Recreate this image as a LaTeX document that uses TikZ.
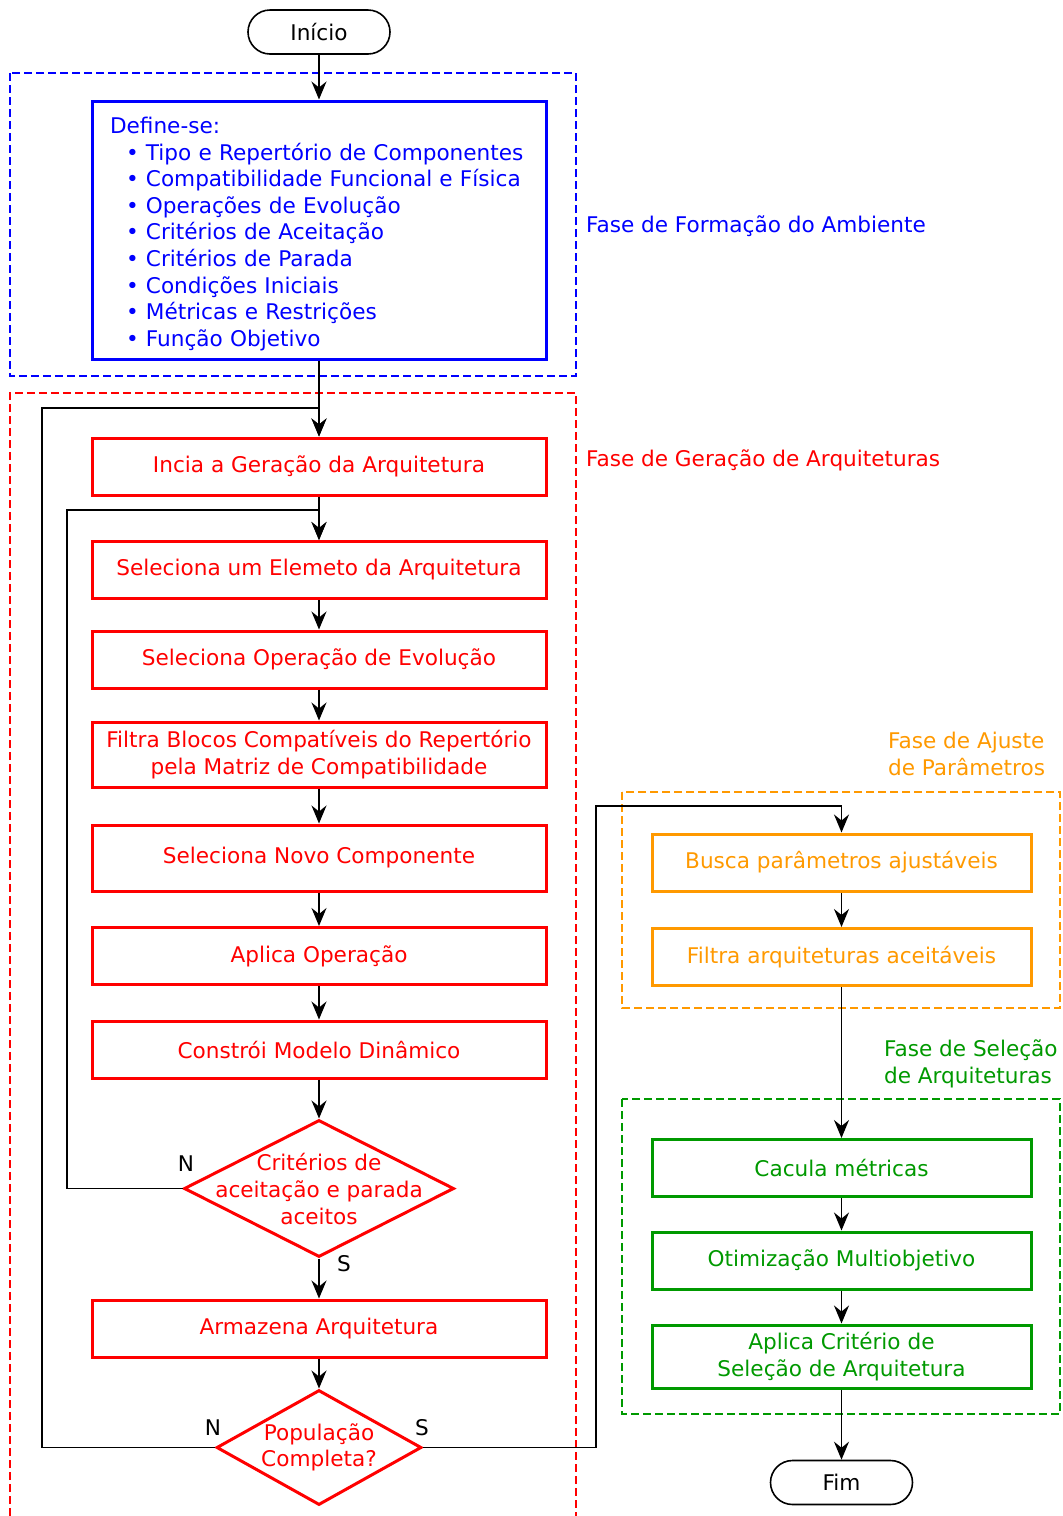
\documentclass[tikz,border=0pt]{standalone}
\usepackage{fontspec}
\setmainfont{DejaVu Sans}
\usetikzlibrary{shapes.geometric,arrows.meta}
\definecolor{myblue}{RGB}{0,0,255}
\definecolor{myred}{RGB}{255,0,0}
\definecolor{myorange}{RGB}{255,153,0}
\definecolor{mygreen}{RGB}{0,153,0}
\begin{document}
\begin{tikzpicture}[x=0.5pt,y=-0.5pt,
  font=\fontsize{10.8}{13.3}\selectfont,
  box/.style={draw, line width=1.5pt, rectangle, minimum width=227pt, minimum height=28.5pt, align=center, inner sep=2pt},
  redbox/.style={box, draw=myred, text=myred},
  rbox/.style={box, minimum width=189.5pt},
  orbox/.style={rbox, draw=myorange, text=myorange},
  grbox/.style={rbox, draw=mygreen, text=mygreen},
  reddia/.style={diamond, draw=myred, line width=1.5pt, inner sep=0pt},
  term/.style={draw, rounded corners=11pt, minimum width=71pt, minimum height=22pt, line width=0.8pt},
  arr/.style={-{Stealth[length=9pt,width=7.5pt,inset=3pt]}, line width=0.7pt, black},
  phase/.style={dash pattern=on 4pt off 2pt, line width=0.6pt},
]
\useasboundingbox (0,0) rectangle (1063,1516);

% phase frames
\draw[phase, myblue] (10,73) rectangle (576,376);
\draw[phase, myred] (10,1516) |- (576,393) -- (576,1516);
\draw[phase, myorange] (622,792) rectangle (1060,1008);
\draw[phase, mygreen] (622,1099) rectangle (1060,1414);

% phase labels
\node[text=myblue, anchor=west] (lf1) at (579,226) {Fase de Formação do Ambiente};
\node[text=myred, anchor=west] (lf2) at (579,460) {Fase de Geração de Arquiteturas};
\node[text=myorange, align=left, anchor=west] (lf3) at (881,754) {Fase de Ajuste\\de Parâmetros};
\node[text=mygreen, align=left, anchor=west] (lf4) at (877,1064) {Fase de Seleção\\de Arquiteturas};

% left column
\node[term] (start) at (319,32) {Início};
\node[box, draw=myblue, text=myblue, minimum height=129pt, text width=209pt, inner xsep=9pt, align=left] (env) at (319,230) {%
\mbox{\rule{0pt}{12.2pt}Define-se:}\\
\mbox{\hspace*{8pt}• Tipo e Repertório de Componentes}\\
\mbox{\hspace*{8pt}• Compatibilidade Funcional e Física}\\
\mbox{\hspace*{8pt}• Operações de Evolução}\\
\mbox{\hspace*{8pt}• Critérios de Aceitação}\\
\mbox{\hspace*{8pt}• Critérios de Parada}\\
\mbox{\hspace*{8pt}• Condições Iniciais}\\
\mbox{\hspace*{8pt}• Métricas e Restrições}\\
\mbox{\hspace*{8pt}• Função Objetivo}};
\node[redbox] (b1) at (319,466.5) {Incia a Geração da Arquitetura};
\node[redbox] (b2) at (319,570) {Seleciona um Elemeto da Arquitetura};
\node[redbox] (b3) at (319,659.5) {Seleciona Operação de Evolução};
\node[redbox, minimum height=32.5pt] (b4) at (319,754.5) {Filtra Blocos Compatíveis do Repertório\\pela Matriz de Compatibilidade};
\node[redbox, minimum height=33pt] (b5) at (319,858) {Seleciona Novo Componente};
\node[redbox] (b6) at (319,956) {Aplica Operação};
\node[redbox] (b7) at (319,1049.5) {Constrói Modelo Dinâmico};
\node[reddia, minimum width=135pt, minimum height=68.5pt] (d1) at (319,1188.5) {};
\node[text=myred, align=center, font=\fontsize{10.8}{13.5}\selectfont] (d1t) at (d1) {Critérios de\\aceitação e parada\\aceitos};
\node[redbox] (b8) at (319,1328.5) {Armazena Arquitetura};
\node[reddia, minimum width=102.5pt, minimum height=57.5pt] (d2) at (319,1447.5) {};
\node[text=myred, align=center] (d2t) at (d2) {População\\Completa?};

% right column
\node[orbox] (p1) at (841.5,862.5) {Busca parâmetros ajustáveis};
\node[orbox] (p2) at (841.5,957) {Filtra arquiteturas aceitáveis};
\node[grbox] (s1) at (841.5,1168) {Cacula métricas};
\node[grbox] (s2) at (841.5,1260.5) {Otimização Multiobjetivo};
\node[grbox, minimum height=31.5pt] (s3) at (841.5,1356.5) {Aplica Critério de\\Seleção de Arquitetura};
\node[term] (end) at (841.5,1482.5) {Fim};

% branch labels
\node (n1) at (186,1164) {N};
\node (y1) at (344,1264) {S};
\node (n2) at (213,1428) {N};
\node (y2) at (422,1428) {S};

% loop corners
\coordinate (c1) at (42,408);
\coordinate (c2) at (67,510);
\coordinate (c3) at (596,806);

% connectors
\draw[arr] (start) -- (env);
\draw[arr] (env) -- (b1);
\draw[arr] (b1) -- (b2);
\draw[arr] (b2) -- (b3);
\draw[arr] (b3) -- (b4);
\draw[arr] (b4) -- (b5);
\draw[arr] (b5) -- (b6);
\draw[arr] (b6) -- (b7);
\draw[arr] (b7) -- (d1);
\draw[arr] (d1) -- (b8);
\draw[arr] (b8) -- (d2);
\draw[arr] (d1.west) -| (c2) -| (b2.north);
\draw[arr] (d2.west) -| (c1) -| (b1.north);
\draw[arr] (d2.east) -| (c3) -| (p1.north);
\draw[arr] (p1) -- (p2);
\draw[arr] (p2) -- (s1);
\draw[arr] (s1) -- (s2);
\draw[arr] (s2) -- (s3);
\draw[arr] (s3) -- (end);
\end{tikzpicture}
\end{document}
